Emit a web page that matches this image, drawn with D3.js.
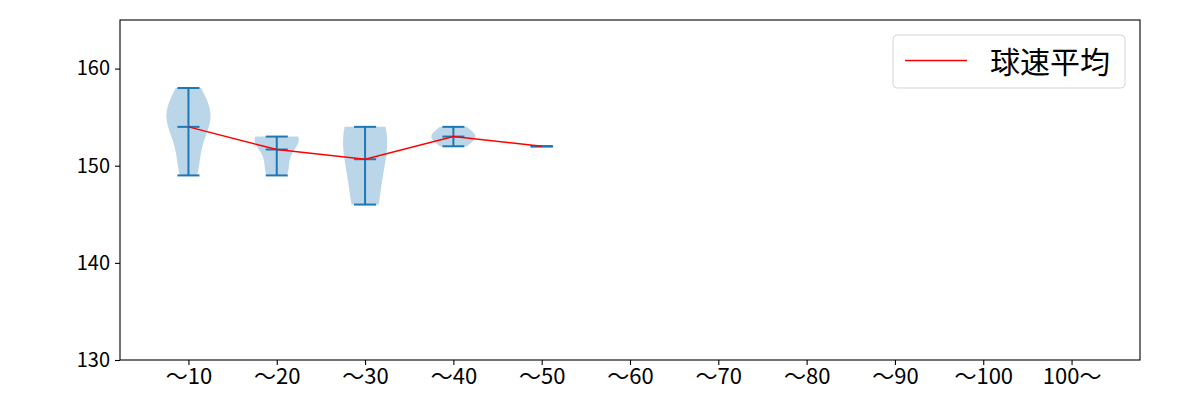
<!DOCTYPE html>
<html>
<head>
<meta charset="utf-8">
<script src="https://cdn.jsdelivr.net/npm/d3@7"></script>
<style>
  body { margin: 0; background: #fff; }
  svg { display: block; }
  text { font-family: "Noto Sans CJK JP", "Noto Sans", sans-serif; fill: #000; }
</style>
</head>
<body>
<svg id="chart" width="1200" height="400"></svg>
<script>
// ---- data ----
const categories = ["～10", "～20", "～30", "～40", "～50", "～60", "～70", "～80", "～90", "～100", "100～"];
const speeds10 = [149, 151, 154, 155, 155, 156, 158];
const speeds20 = [149, 150, 152, 153, 153, 153];
const speeds30 = [146, 152, 154];
const speeds40 = [152, 153, 153, 154];
const speeds50 = [152];
const speedsByCategory = [speeds10, speeds20, speeds30, speeds40, speeds50, [], [], [], [], [], []];
const yTicks = [130, 140, 150, 160];
const legendLabel = "球速平均";

// ---- layout ----
const W = 1200, H = 400;
const m = { left: 120, right: 60, top: 20, bottom: 40 };
const pw = W - m.left - m.right, ph = H - m.top - m.bottom;
const svg = d3.select("#chart");
const g = svg.append("g").attr("transform", `translate(${m.left},${m.top})`);

const x = d3.scaleLinear().domain([0.225, 11.775]).range([0, pw]);
const y = d3.scaleLinear().domain([130, 165]).range([ph, 0]);

const blue = "#1f77b4";

// KDE like matplotlib (Scott's rule)
function kdeOutline(data) {
  const n = data.length;
  const mean = d3.mean(data);
  const sd = Math.sqrt(d3.sum(data, v => (v - mean) ** 2) / (n - 1));
  const bw = sd * Math.pow(n, -0.2);
  const lo = d3.min(data), hi = d3.max(data);
  const pts = d3.range(100).map(i => lo + (hi - lo) * i / 99);
  const vals = pts.map(p => d3.sum(data, v => Math.exp(-0.5 * ((p - v) / bw) ** 2)));
  const mx = d3.max(vals);
  return pts.map((p, i) => [p, 0.25 * vals[i] / mx]);
}

g.append("clipPath").attr("id", "clip")
  .append("rect").attr("width", pw).attr("height", ph);
const plot = g.append("g").attr("clip-path", "url(#clip)");

const area = d3.area()
  .y(d => y(d[0]))
  .curve(d3.curveLinear);

const means = [];
speedsByCategory.forEach((data, i) => {
  const pos = i + 1;
  if (data.length === 0) return;
  if (data.length > 1) {
    const outline = kdeOutline(data);
    plot.append("path")
      .datum(outline)
      .attr("d", area.x0(d => x(pos - d[1])).x1(d => x(pos + d[1])))
      .attr("fill", blue).attr("fill-opacity", 0.3).attr("stroke", "none");
  }
  const mn = d3.min(data), mxv = d3.max(data), me = d3.mean(data);
  means.push([pos, me]);
  const lineG = plot.append("g").attr("stroke", blue).attr("stroke-width", 2);
  [mn, mxv, me].forEach(v => {
    lineG.append("line")
      .attr("x1", x(pos - 0.125)).attr("x2", x(pos + 0.125))
      .attr("y1", y(v)).attr("y2", y(v));
  });
  lineG.append("line")
    .attr("x1", x(pos)).attr("x2", x(pos))
    .attr("y1", y(mn)).attr("y2", y(mxv));
});

// mean line
plot.append("path")
  .datum(means)
  .attr("d", d3.line().x(d => x(d[0])).y(d => y(d[1])))
  .attr("fill", "none").attr("stroke", "red").attr("stroke-width", 1.5);

// axes
const xAxis = g.append("g").attr("transform", `translate(0,${ph})`)
  .call(d3.axisBottom(x).tickValues(d3.range(1, 12)).tickFormat(d => categories[d - 1]).tickSize(5).tickPadding(3));
const yAxis = g.append("g")
  .call(d3.axisLeft(y).tickValues(yTicks).tickSize(5).tickPadding(5));
[xAxis, yAxis].forEach(a => {
  a.select(".domain").remove();
  a.selectAll(".tick line").attr("stroke", "#000").attr("stroke-width", 1.1);
  a.selectAll("text").attr("fill", "#000").style("font-family", '"Noto Sans CJK JP", sans-serif');
});
xAxis.selectAll("text").style("font-size", "22px");
yAxis.selectAll("text").style("font-size", "20px");

g.append("rect").attr("width", pw).attr("height", ph)
  .attr("fill", "none").attr("stroke", "#000").attr("stroke-width", 1.1);

// legend
const lg = g.append("g").attr("transform", `translate(${893 - m.left},${35 - m.top})`);
lg.append("rect").attr("width", 232).attr("height", 53).attr("rx", 4)
  .attr("fill", "#fff").attr("fill-opacity", 0.8).attr("stroke", "#d5d5d5").attr("stroke-width", 1);
lg.append("line").attr("x1", 12).attr("x2", 74).attr("y1", 25.5).attr("y2", 25.5)
  .attr("stroke", "red").attr("stroke-width", 1.5);
lg.append("text").attr("x", 97).attr("y", 25).attr("dominant-baseline", "central")
  .style("font-size", "30px").text(legendLabel);
</script>
</body>
</html>
